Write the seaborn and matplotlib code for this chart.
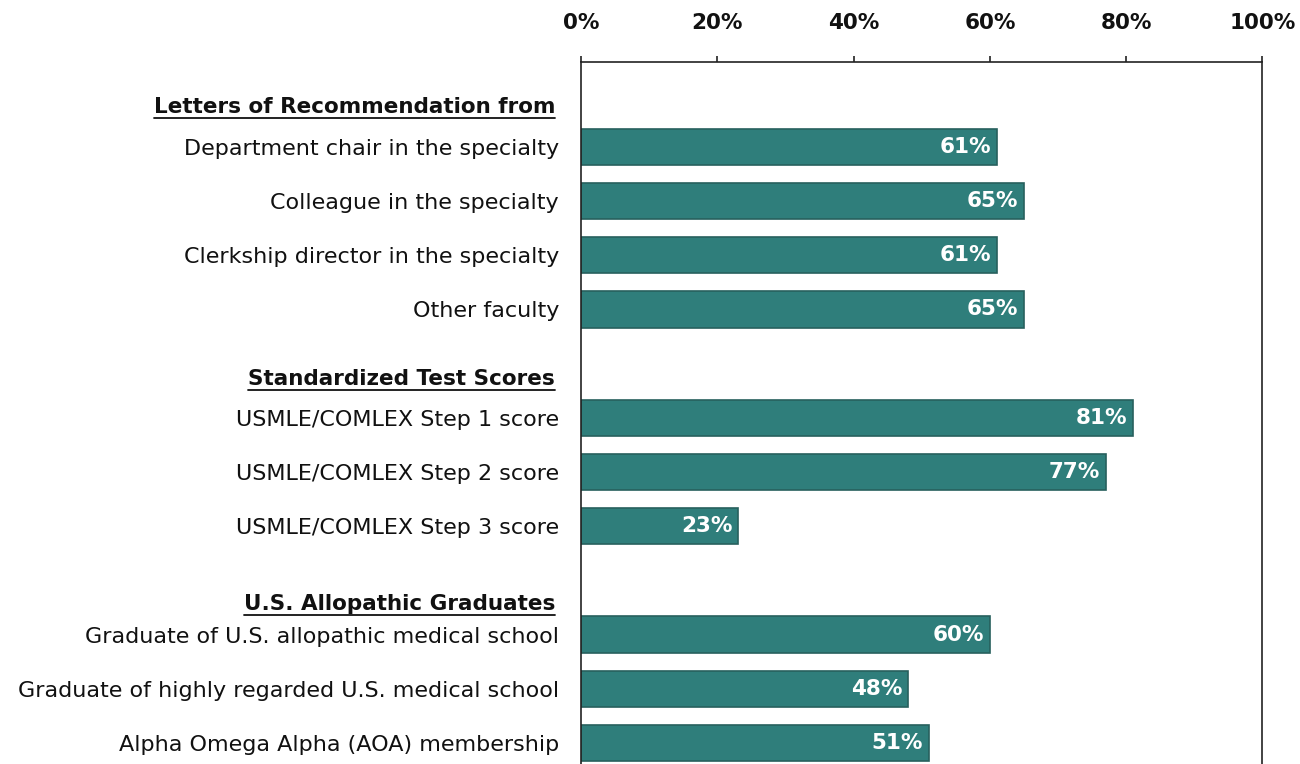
import pandas as pd
import matplotlib
matplotlib.use("Agg")
import matplotlib.pyplot as plt
from matplotlib.lines import Line2D
from matplotlib.transforms import IdentityTransform, blended_transform_factory
import seaborn as sb

# data
labels = [
    "Department chair in the specialty",
    "Colleague in the specialty",
    "Clerkship director in the specialty",
    "Other faculty",
    "USMLE/COMLEX Step 1 score",
    "USMLE/COMLEX Step 2 score",
    "USMLE/COMLEX Step 3 score",
    "Graduate of U.S. allopathic medical school",
    "Graduate of highly regarded U.S. medical school",
    "Alpha Omega Alpha (AOA) membership",
]
values = [61, 65, 61, 65, 81, 77, 23, 60, 48, 51]
rows = [0, 1, 2, 3, 5, 6, 7, 9, 10, 11]
headers = ["Letters of Recommendation from", "Standardized Test Scores", "U.S. Allopathic Graduates"]
header_rows = [-0.73, 4.29, 8.44]
ticks = [0, 20, 40, 60, 80, 100]

teal = "#2F7E7B"
edge = "#27605D"

sb.set_theme(style="white")
plt.rcParams["font.family"] = ["DejaVu Sans"]

fig = plt.figure(figsize=(13, 7.64), dpi=100)
ax = fig.add_axes([0.447, 0.0, 0.524, 0.919])

df = pd.DataFrame({"row": rows, "value": values})
sb.barplot(data=df, x="value", y="row", orient="h", native_scale=True, width=0.67,
           color=teal, saturation=1, edgecolor=edge, linewidth=1.2, ax=ax)

ax.set_xlim(0, 100)
ax.set_ylim(11.39, -1.57)
ax.set_xlabel("")
ax.set_ylabel("")

# scale on top
ax.xaxis.set_ticks_position("top")
ax.xaxis.set_label_position("top")
ax.set_xticks(ticks)
ax.set_xticklabels([f"{t}%" for t in ticks], fontsize=15.5, fontweight="bold", color="#111111")
ax.tick_params(axis="x", direction="out", length=4, width=1.2, color="#222222", pad=17)

ax.set_yticks(rows)
ax.set_yticklabels(labels, fontsize=16, color="#111111")
ax.tick_params(axis="y", length=0, pad=16)

for side in ["top", "left", "right"]:
    ax.spines[side].set_visible(True)
    ax.spines[side].set_color("#222222")
    ax.spines[side].set_linewidth(1.2)
ax.spines["bottom"].set_visible(False)

for r, v in zip(rows, values):
    ax.text(v - 0.8, r, f"{v}%", ha="right", va="center", color="white",
            fontsize=15.5, fontweight="bold")

trans = blended_transform_factory(ax.transAxes, ax.transData)
header_texts = []
for h, r in zip(headers, header_rows):
    t = ax.text(-0.038, r, h, transform=trans, ha="right", va="center",
                fontsize=15.5, fontweight="bold", color="#111111")
    header_texts.append(t)

# underline the group headers
fig.canvas.draw()
renderer = fig.canvas.get_renderer()
for t in header_texts:
    bb = t.get_window_extent(renderer)
    fig.add_artist(Line2D([bb.x0, bb.x1], [bb.y0 - 1, bb.y0 - 1], transform=IdentityTransform(),
                          color="#111111", linewidth=1.3))

fig.savefig("out.png", dpi=100)
